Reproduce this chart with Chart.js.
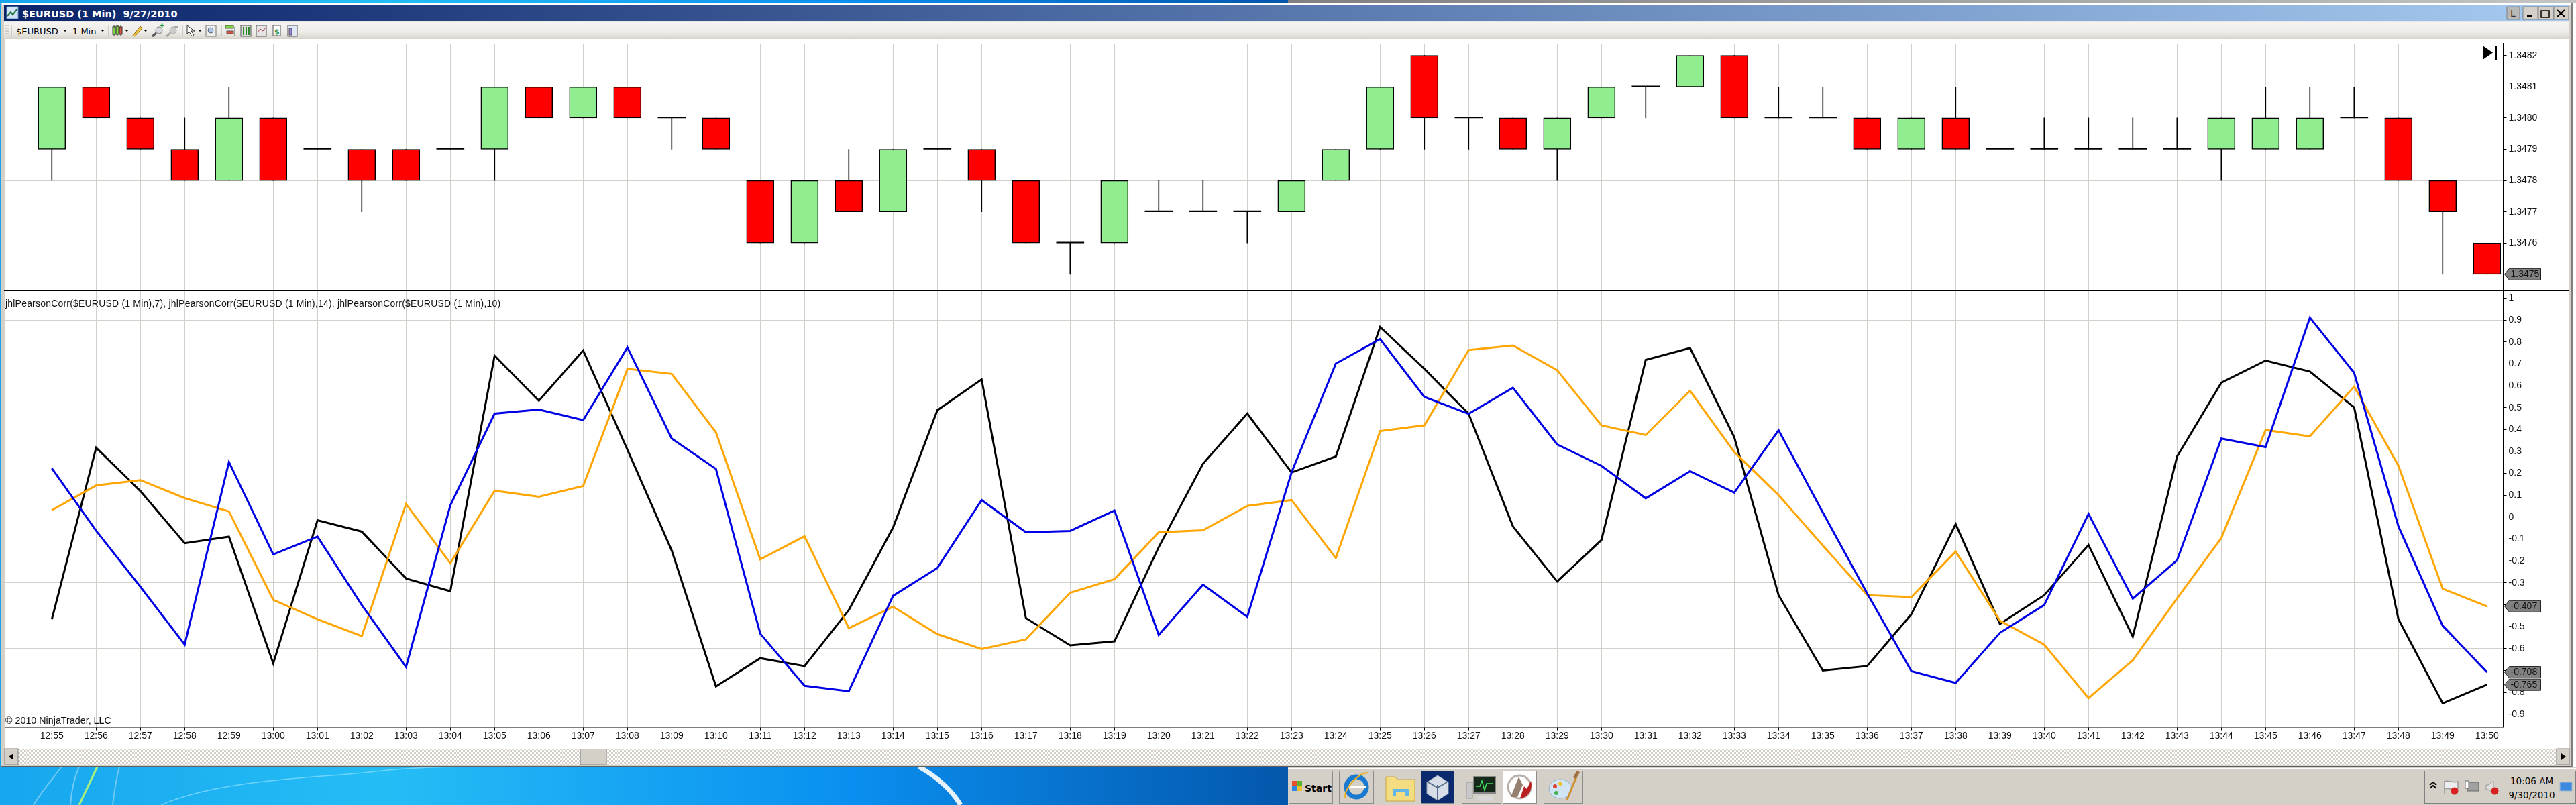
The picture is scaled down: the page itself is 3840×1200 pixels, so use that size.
<!DOCTYPE html>
<html>
<head>
<meta charset="utf-8">
<title>$EURUSD (1 Min) 9/27/2010</title>
<script src="https://cdn.jsdelivr.net/npm/chart.js@4"></script>
<style>
html, body { margin: 0; padding: 0; width: 3840px; height: 1200px; overflow: hidden; background: #d4d0c8; }
#chrome, #overlay { position: absolute; left: 0; top: 0; }
#overlay { pointer-events: none; }
canvas { position: absolute; left: 7px; display: block; }
#priceChart { top: 58px; }
#corrChart { top: 430px; }
.win { font-family: "DejaVu Sans", sans-serif; fill: #000; }
.arial { font-family: "Liberation Sans", Arial, sans-serif; fill: #111; }
</style>
</head>
<body>

<svg id="chrome" width="3840" height="1200" xmlns="http://www.w3.org/2000/svg">
	<defs>
		<linearGradient id="wall" x1="0" x2="1" y1="0" y2="0">
			<stop offset="0" stop-color="#16a6ee"/>
			<stop offset="0.3" stop-color="#25bdf6"/>
			<stop offset="0.66" stop-color="#0a8ff0"/>
			<stop offset="1" stop-color="#0457ac"/>
		</linearGradient>
		<linearGradient id="topStrip" x1="0" x2="1" y1="0" y2="0">
			<stop offset="0" stop-color="#808080"/>
			<stop offset="1" stop-color="#c4c4c4"/>
		</linearGradient>
		<linearGradient id="titleBar" x1="0" x2="1" y1="0" y2="0">
			<stop offset="0" stop-color="#0a246a"/>
			<stop offset="1" stop-color="#a6caf0"/>
		</linearGradient>
		<linearGradient id="toolBar" x1="0" x2="0" y1="0" y2="1">
			<stop offset="0" stop-color="#f5f4f1"/>
			<stop offset="0.6" stop-color="#eeece8"/>
			<stop offset="1" stop-color="#d8d4cc"/>
		</linearGradient>
		<pattern id="hatch" width="2" height="2" patternUnits="userSpaceOnUse">
			<rect width="2" height="2" fill="#ffffff"/>
			<rect width="1" height="1" fill="#d4d0c8"/>
			<rect x="1" y="1" width="1" height="1" fill="#d4d0c8"/>
		</pattern>
	</defs>

	<!-- desktop and taskbar -->
	<rect x="0" y="0" width="1920" height="1200" fill="url(#wall)"/>
	<rect x="1920" y="0" width="1920" height="4" fill="url(#topStrip)"/>
	<rect x="1920" y="1143" width="1920" height="57" fill="#d4d0c8"/>
	<rect x="1920" y="1145" width="1920" height="2" fill="#ffffff"/>
	<rect x="3836" y="4" width="4" height="1140" fill="#ffffff"/>
	<path d="M145 1143 L118 1200" stroke="#a8f080" stroke-width="3" fill="none"/>
	<path d="M92 1143 C75 1165 62 1180 50 1200 M118 1143 C108 1165 106 1185 105 1200 M178 1143 C172 1165 170 1185 168 1200" stroke="#70c8f4" stroke-width="2" fill="none"/>
	<path d="M240 1200 C330 1160 480 1160 560 1150 C620 1143 680 1143 700 1143" stroke="#6fd4fa" stroke-width="1.5" fill="none"/>
	<path d="M1370 1143 C1400 1160 1420 1180 1432 1200" stroke="#ffffff" stroke-width="7" fill="none" opacity="0.9"/>

	<!-- window frame, title bar, toolbar -->
	<rect x="2" y="4" width="3834" height="1140" fill="#d4d0c8"/>
	<rect x="2" y="1142" width="3834" height="2" fill="#5f5f5f"/>
	<rect x="3833" y="4" width="3" height="1140" fill="#7f7f7f"/>
	<rect x="3" y="5" width="3830" height="2" fill="#ffffff"/>
	<rect x="6" y="8" width="3824" height="24" fill="url(#titleBar)"/>
	<rect x="6" y="32" width="3824" height="1" fill="#e8e8e8"/>
	<rect x="6" y="33" width="3824" height="25" fill="url(#toolBar)"/>
	<rect x="7" y="58" width="3823" height="1058" fill="#ffffff"/>

	<g transform="translate(10 10)">
		<rect width="17" height="18" fill="#cfe4f6" stroke="#5d8fc0"/>
		<path d="M1 14 L6 8 L9 12 L16 3" stroke="#1d6e3a" stroke-width="2" fill="none"/>
	</g>
	<text class="win" x="33" y="26" font-size="14.5" font-weight="bold" style="fill:#fff" xml:space="preserve">$EURUSD (1 Min)  9/27/2010</text>

	<!-- caption buttons -->
	<g class="win" font-size="14">
		<rect x="3737" y="10" width="19" height="19" fill="#b8b8b8" stroke="#808080"/>
		<text x="3742" y="25" style="fill:#333">L</text>
		<g fill="#d4d0c8" stroke="#808080">
			<rect x="3761" y="10" width="22" height="19"/>
			<rect x="3784" y="10" width="22" height="19"/>
			<rect x="3807" y="10" width="22" height="19"/>
		</g>
		<rect x="3767" y="23" width="8" height="2" fill="#000"/>
		<rect x="3788" y="16" width="12" height="10" fill="none" stroke="#000" stroke-width="1.5"/>
		<path d="M3812 15 L3823 25 M3823 15 L3812 25" stroke="#000" stroke-width="2"/>
	</g>

	<!-- toolbar -->
	<g stroke="#b0aca4">
		<path d="M9 37 V54 M12 37 V54" stroke-dasharray="2 2"/>
		<path d="M17 37 V54 M162 37 V54 M272 37 V54 M330 37 V54"/>
	</g>
	<text class="win" x="24" y="51" font-size="13">$EURUSD</text>
	<text class="win" x="108" y="51" font-size="13">1 Min</text>
	<g fill="#000">
		<path d="M94 44 h6 l-3 3z M150 44 h6 l-3 3z M186 44 h6 l-3 3z M214 44 h6 l-3 3z M295 44 h6 l-3 3z"/>
	</g>
	<g stroke="#333">
		<path d="M170 37 V54 M175 37 V54 M180 37 V54"/>
		<rect x="168" y="40" width="4" height="11" fill="#7fd63f"/>
		<rect x="173" y="39" width="4" height="12" fill="#7fd63f"/>
		<rect x="178" y="40" width="4" height="11" fill="#e05040"/>
	</g>
	<path d="M198 53 L209 39 L212 42 L201 54 Z" fill="#f0c040" stroke="#8a6a10"/>
	<circle cx="237" cy="45" r="5" fill="#d8d8e0" stroke="#777"/>
	<path d="M233 49 L227 54" stroke="#555" stroke-width="3"/>
	<path d="M239 38 h5 M241.500 35.500 v5" stroke="#20a040" stroke-width="2"/>
	<circle cx="258" cy="45" r="5" fill="#ccc" stroke="#aaa"/>
	<path d="M254 49 L248 54" stroke="#aaa" stroke-width="3"/>
	<path d="M259 40 h6" stroke="#aaa" stroke-width="2"/>
	<path d="M279 38 L279 50 L282 47 L286 54 L289 52 L285 46 L290 46 Z" fill="#fff" stroke="#333"/>
	<rect x="307" y="38" width="15" height="16" fill="#eee" stroke="#777"/>
	<circle cx="314" cy="45" r="4" fill="#a8c4e8" stroke="#667"/>
	<g stroke="#555">
		<rect x="336" y="38" width="12" height="4" fill="#7fd63f"/>
		<rect x="338" y="46" width="10" height="4" fill="#e05040"/>
		<path d="M350 40 V54"/>
		<rect x="359" y="38" width="15" height="16" fill="#ddd"/>
		<path d="M363 40 V52 M367 40 V52 M371 40 V52" stroke="#2a8a2a" stroke-width="2"/>
		<rect x="382" y="38" width="15" height="16" fill="#e4e4e4"/>
		<path d="M384 48 L388 43 L392 46 L396 41" stroke="#c04040" fill="none"/>
		<rect x="407" y="38" width="11" height="15" fill="#fff"/>
		<rect x="429" y="38" width="14" height="16" fill="#dfe8f4"/>
		<rect x="431" y="42" width="4" height="10" fill="#a080e0"/>
	</g>
	<text class="win" x="409" y="51" font-size="11" font-weight="bold" style="fill:#1a8a3a">$</text>

	<!-- bottom scrollbar -->
	<rect x="7" y="1116" width="3823" height="24" fill="url(#hatch)"/>
	<rect x="7" y="1116" width="20" height="24" fill="#d4d0c8" stroke="#808080"/>
	<path d="M20 1123 V1133 L13 1128 Z" fill="#000"/>
	<rect x="865" y="1116.500" width="39" height="23.500" fill="#d4d0c8" stroke="#808080"/>
	<rect x="3811" y="1116" width="19" height="24" fill="#d4d0c8" stroke="#808080"/>
	<path d="M3818 1123 V1133 L3825 1128 Z" fill="#000"/>

	<!-- taskbar buttons -->
	<g fill="#d4d0c8" stroke="#8c8c8c">
		<rect x="1921.500" y="1149.500" width="65" height="48"/>
		<rect x="1996.500" y="1149.500" width="51" height="48"/>
		<rect x="2118.500" y="1149.500" width="49" height="48" fill="#0b2a6e"/>
		<rect x="2179.500" y="1149.500" width="58" height="48"/>
		<rect x="2240.500" y="1149.500" width="50" height="48" fill="#ffffff"/>
		<rect x="2301.500" y="1149.500" width="58" height="48"/>
	</g>
	<g transform="translate(1926 1164)">
		<rect width="7" height="7" fill="#e85030"/><rect x="8" width="7" height="7" fill="#60b030"/>
		<rect y="8" width="7" height="7" fill="#3088e0"/><rect x="8" y="8" width="7" height="7" fill="#f0c030"/>
	</g>
	<text class="win" x="1945" y="1180" font-size="14" font-weight="bold">Start</text>
	<g fill="none">
		<circle cx="2022" cy="1173" r="15" stroke="#1a7ad0" stroke-width="7"/>
		<rect x="2010" y="1171" width="26" height="4" fill="#ffffff"/>
		<path d="M2006 1190 C2000 1180 2025 1150 2040 1152" stroke="#e8b020" stroke-width="2"/>
		<path d="M2066 1158 h14 l3 4 h26 v32 h-43 z" fill="#f4dc80" stroke="#c8a840"/>
		<path d="M2076 1186 v-10 h24 v10 h-5 v-5 h-14 v5 z" fill="#60b8e8"/>
		<path d="M2143 1156 L2159 1166 V1183 L2143 1193 L2127 1183 V1166 Z" fill="#d8dee8" stroke="#90a0b0"/>
		<path d="M2143 1170 V1192 M2129 1166 L2143 1174 L2157 1166" stroke="#5a7090" stroke-width="2"/>
		<rect x="2197" y="1158" width="32" height="24" fill="#16281a" stroke="#888" stroke-width="2"/>
		<path d="M2200 1172 h6 l3 -8 l4 14 l3 -10 h10" stroke="#40e060" stroke-width="1.500"/>
		<rect x="2186" y="1166" width="9" height="24" fill="#c8c8c8" stroke="#999"/>
		<ellipse cx="2214" cy="1190" rx="13" ry="4" fill="#d8d8d8"/>
		<circle cx="2265" cy="1173" r="17" fill="#ffffff" stroke="#b8b0a8" stroke-width="3"/>
		<path d="M2252 1188 L2264 1158 L2270 1170 L2262 1188 Z" fill="#968070"/>
		<path d="M2282 1164 C2286 1178 2276 1190 2266 1190 L2272 1172 L2276 1176 Z" fill="#b82020"/>
		<ellipse cx="2326" cy="1176" rx="17" ry="14" fill="#d0e4f4" stroke="#90b0d0"/>
		<circle cx="2318" cy="1172" r="3" fill="#e04030"/>
		<circle cx="2326" cy="1168" r="3" fill="#f0c030"/>
		<circle cx="2320" cy="1182" r="3" fill="#40b050"/>
		<path d="M2336 1192 L2350 1158" stroke="#d09030" stroke-width="3"/>
		<path d="M2347 1160 L2353 1150" stroke="#a07040" stroke-width="5"/>
	</g>

	<!-- tray -->
	<rect x="3614.500" y="1149.500" width="225" height="48" fill="#d4d0c8" stroke="#808080"/>
	<path d="M3622 1170 l5 -4 l5 4 M3622 1175 l5 -4 l5 4" stroke="#000" stroke-width="2" fill="none"/>
	<path d="M3644 1164 V1183 M3644 1165 C3650 1162 3656 1168 3664 1165 V1176 C3656 1179 3650 1173 3644 1176" fill="#eeeeee" stroke="#999" stroke-width="1.500"/>
	<circle cx="3659" cy="1179" r="5.500" fill="#d82020"/>
	<rect x="3678" y="1166" width="17" height="13" fill="#a0a0a0" stroke="#666"/>
	<rect x="3675" y="1164" width="5" height="11" fill="#fff" stroke="#666"/>
	<path d="M3706 1170 h4 l7 -6 v19 l-7 -6 h-4 z" fill="#e0e0e0" stroke="#999"/>
	<circle cx="3719" cy="1179" r="5.500" fill="#d82020"/>
	<text class="win" x="3774" y="1169" font-size="13.500" text-anchor="middle">10:06 AM</text>
	<text class="win" x="3774" y="1190" font-size="13.500" text-anchor="middle">9/30/2010</text>
	<rect x="3816" y="1166" width="18" height="13" fill="#3c8ae0" stroke="#a0b8d0"/>
</svg>

<canvas id="priceChart" width="3823" height="376"></canvas>
<canvas id="corrChart" width="3823" height="686"></canvas>

<svg id="overlay" width="3840" height="1200" xmlns="http://www.w3.org/2000/svg">
	<rect x="6" y="432.500" width="3824" height="1.500" fill="#000"/>
	<text class="arial" x="8" y="457" font-size="14" style="letter-spacing:0.2px">jhlPearsonCorr($EURUSD (1 Min),7), jhlPearsonCorr($EURUSD (1 Min),14), jhlPearsonCorr($EURUSD (1 Min),10)</text>
	<text class="arial" x="8" y="1079" font-size="14.3">© 2010 NinjaTrader, LLC</text>
	<path d="M3701 68 L3716 78.500 L3701 89 Z" fill="#000"/>
	<rect x="3719" y="68" width="3" height="21" fill="#000"/>
</svg>

<script>
// minutes on the time axis
var minutes = ['12:55','12:56','12:57','12:58','12:59','13:00','13:01','13:02','13:03','13:04','13:05','13:06','13:07','13:08',
	'13:09','13:10','13:11','13:12','13:13','13:14','13:15','13:16','13:17','13:18','13:19','13:20','13:21','13:22',
	'13:23','13:24','13:25','13:26','13:27','13:28','13:29','13:30','13:31','13:32','13:33','13:34','13:35','13:36',
	'13:37','13:38','13:39','13:40','13:41','13:42','13:43','13:44','13:45','13:46','13:47','13:48','13:49','13:50'];

// $EURUSD candles
var candleOpen = [1.3479,1.3481,1.3480,1.3479,1.3478,1.3480,1.3479,1.3479,1.3479,1.3479,1.3479,1.3481,1.3480,1.3481,
	1.3480,1.3480,1.3478,1.3476,1.3478,1.3477,1.3479,1.3479,1.3478,1.3476,1.3476,1.3477,1.3477,1.3477,
	1.3477,1.3478,1.3479,1.3482,1.3480,1.3480,1.3479,1.3480,1.3481,1.3481,1.3482,1.3480,1.3480,1.3480,
	1.3479,1.3480,1.3479,1.3479,1.3479,1.3479,1.3479,1.3479,1.3479,1.3479,1.3480,1.3480,1.3478,1.3476];
var candleClose = [1.3481,1.3480,1.3479,1.3478,1.3480,1.3478,1.3479,1.3478,1.3478,1.3479,1.3481,1.3480,1.3481,1.3480,
	1.3480,1.3479,1.3476,1.3478,1.3477,1.3479,1.3479,1.3478,1.3476,1.3476,1.3478,1.3477,1.3477,1.3477,
	1.3478,1.3479,1.3481,1.3480,1.3480,1.3479,1.3480,1.3481,1.3481,1.3482,1.3480,1.3480,1.3480,1.3479,
	1.3480,1.3479,1.3479,1.3479,1.3479,1.3479,1.3479,1.3480,1.3480,1.3480,1.3480,1.3478,1.3477,1.3475];
var candleHigh = [1.3481,1.3481,1.3480,1.3480,1.3481,1.3480,1.3479,1.3479,1.3479,1.3479,1.3481,1.3481,1.3481,1.3481,
	1.3480,1.3480,1.3478,1.3478,1.3479,1.3479,1.3479,1.3479,1.3478,1.3476,1.3478,1.3478,1.3478,1.3477,
	1.3478,1.3479,1.3481,1.3482,1.3480,1.3480,1.3480,1.3481,1.3481,1.3482,1.3482,1.3481,1.3481,1.3480,
	1.3480,1.3481,1.3479,1.3480,1.3480,1.3480,1.3480,1.3480,1.3481,1.3481,1.3481,1.3480,1.3478,1.3476];
var candleLow = [1.3478,1.3480,1.3479,1.3478,1.3478,1.3478,1.3479,1.3477,1.3478,1.3479,1.3478,1.3480,1.3480,1.3480,
	1.3479,1.3479,1.3476,1.3476,1.3477,1.3477,1.3479,1.3477,1.3476,1.3475,1.3476,1.3477,1.3477,1.3476,
	1.3477,1.3478,1.3479,1.3479,1.3479,1.3479,1.3478,1.3480,1.3480,1.3481,1.3480,1.3480,1.3480,1.3479,
	1.3479,1.3479,1.3479,1.3479,1.3479,1.3479,1.3479,1.3478,1.3479,1.3479,1.3480,1.3478,1.3475,1.3475];

// jhlPearsonCorr lines
var pearson7 = [-0.466,0.317,0.119,-0.119,-0.089,-0.668,-0.014,-0.066,-0.280,-0.338,0.737,0.532,0.761,0.308,
	-0.152,-0.773,-0.644,-0.680,-0.424,-0.047,0.488,0.629,-0.461,-0.585,-0.567,-0.137,0.244,0.473,
	0.204,0.277,0.868,0.677,0.472,-0.042,-0.294,-0.104,0.718,0.772,0.365,-0.356,-0.700,-0.680,
	-0.443,-0.032,-0.487,-0.356,-0.127,-0.546,0.277,0.614,0.715,0.665,0.501,-0.466,-0.850,-0.765];
var pearson10 = [0.223,-0.062,-0.318,-0.582,0.252,-0.170,-0.089,-0.401,-0.684,0.054,0.473,0.491,0.443,0.775,
	0.359,0.220,-0.532,-0.770,-0.795,-0.359,-0.232,0.078,-0.069,-0.063,0.030,-0.538,-0.308,-0.455,
	0.204,0.701,0.813,0.549,0.472,0.591,0.332,0.234,0.086,0.210,0.112,0.397,0.021,-0.348,
	-0.703,-0.757,-0.528,-0.401,0.015,-0.372,-0.197,0.359,0.320,0.911,0.659,-0.042,-0.496,-0.708];
var pearson14 = [0.032,0.145,0.169,0.087,0.026,-0.377,-0.466,-0.543,0.060,-0.210,0.121,0.093,0.142,0.677,
	0.654,0.387,-0.193,-0.087,-0.507,-0.409,-0.534,-0.602,-0.558,-0.345,-0.283,-0.069,-0.060,0.051,
	0.078,-0.187,0.393,0.419,0.763,0.784,0.671,0.419,0.375,0.577,0.297,0.101,-0.130,-0.356,
	-0.365,-0.157,-0.473,-0.582,-0.826,-0.653,-0.371,-0.095,0.398,0.369,0.596,0.235,-0.327,-0.407];

// axis ticks
var priceTicks = [1.3482,1.3481,1.3480,1.3479,1.3478,1.3477,1.3476,1.3475];
var priceGridAt = [1.3481,1.3478,1.3475];
var corrTicks = [1,0.9,0.8,0.7,0.6,0.5,0.4,0.3,0.2,0.1,0,-0.1,-0.2,-0.3,-0.4,-0.5,-0.6,-0.7,-0.8,-0.9];
var corrGridAt = [0.9,0.6,0.3,-0.3,-0.6,-0.9];

// last value tags on the right axis
var priceTags = [1.3475];
var corrTags = [-0.407,-0.708,-0.765];

var gridGray = '#d2d0ca';
var axisFont = { family: '"Liberation Sans", Arial, sans-serif', size: 14 };
var chartLeft = 7;
var axisX = 3731.5;
var xMin = -(77.3 - chartLeft) / 66;
var xMax = (axisX - 77.3) / 66;
var minuteIndex = minutes.map(function (m, i) { return i; });

Chart.defaults.devicePixelRatio = 1;

function tagPlugin(values, digits) {
	return {
		id: 'valueTags',
		afterDraw: function (chart) {
			var ctx = chart.ctx, y = chart.scales.y;
			var left = chart.chartArea.right + 2;
			values.forEach(function (v) {
				var py = y.getPixelForValue(v);
				ctx.save();
				ctx.beginPath();
				ctx.moveTo(left, py);
				ctx.lineTo(left + 7, py - 8.5);
				ctx.lineTo(left + 54, py - 8.5);
				ctx.lineTo(left + 54, py + 8.5);
				ctx.lineTo(left + 7, py + 8.5);
				ctx.closePath();
				ctx.fillStyle = '#808080';
				ctx.fill();
				ctx.strokeStyle = '#222';
				ctx.lineWidth = 1;
				ctx.stroke();
				ctx.fillStyle = '#111';
				ctx.font = '14px ' + axisFont.family;
				ctx.textAlign = 'left';
				ctx.textBaseline = 'middle';
				ctx.fillText(v.toFixed(digits), left + 9, py);
				ctx.restore();
			});
		}
	};
}

// the plot area has to land on exact pixels, so drop the label padding chart.js adds
function noPadding(scale) {
	scale.paddingLeft = scale.paddingRight = scale.paddingTop = scale.paddingBottom = 0;
}

function xScale(showLabels, height) {
	return {
		type: 'linear',
		offset: false,
		min: xMin,
		max: xMax,
		afterBuildTicks: function (scale) {
			scale.ticks = minuteIndex.map(function (i) { return { value: i }; });
		},
		afterFit: function (scale) { scale.height = height; noPadding(scale); },
		grid: {
			offset: false,
			color: gridGray,
			lineWidth: 1,
			drawTicks: showLabels,
			tickLength: 5,
			tickColor: '#000'
		},
		border: { display: showLabels, color: '#000', width: 1.5 },
		ticks: {
			display: showLabels,
			autoSkip: false,
			maxRotation: 0,
			padding: 0,
			color: '#111',
			font: axisFont,
			callback: function (v) { return minutes[v]; }
		}
	};
}

function yScale(min, max, tickList, gridColor, label) {
	return {
		position: 'right',
		beginAtZero: false,
		min: min,
		max: max,
		afterBuildTicks: function (scale) {
			scale.ticks = tickList.map(function (v) { return { value: v }; });
		},
		afterFit: function (scale) { scale.width = 3830 - axisX; noPadding(scale); },
		grid: {
			color: gridColor,
			lineWidth: 1,
			drawTicks: true,
			tickLength: 5,
			tickColor: '#000'
		},
		border: { display: true, color: '#000', width: 1.5 },
		ticks: { autoSkip: false, padding: 3, color: '#111', font: axisFont, callback: label }
	};
}

// bodies, wicks and the flat open=close candles
var bodies = [], bodyColors = [], wicks = [], flats = [];
minutes.forEach(function (m, i) {
	wicks.push({ x: i, y: [candleLow[i], candleHigh[i]] });
	if (candleOpen[i] === candleClose[i]) {
		flats.push({ x: i, y: [candleClose[i], candleClose[i]] });
	} else {
		bodies.push({ x: i, y: [candleOpen[i], candleClose[i]] });
		bodyColors.push(candleClose[i] > candleOpen[i] ? '#90ee90' : '#ff0000');
	}
});

new Chart(document.getElementById('priceChart'), {
	type: 'bar',
	plugins: [tagPlugin(priceTags, 4)],
	data: {
		datasets: [
			{
				data: bodies,
				backgroundColor: bodyColors,
				borderColor: '#000',
				borderWidth: 1.5,
				borderSkipped: false,
				barThickness: 41,
				grouped: false,
				order: 1
			},
			{
				data: flats,
				backgroundColor: '#000',
				minBarLength: 1.5,
				barThickness: 41,
				grouped: false,
				order: 0
			},
			{
				data: wicks,
				backgroundColor: '#000',
				barThickness: 1,
				grouped: false,
				order: 2
			}
		]
	},
	options: {
		responsive: false,
		animation: false,
		layout: { padding: { top: 7, left: 0, right: 0, bottom: 0 } },
		plugins: { legend: { display: false }, tooltip: { enabled: false } },
		scales: {
			x: xScale(false, 0),
			y: yScale(1.348238, 1.347446, priceTicks, function (c) {
				return priceGridAt.indexOf(c.tick.value) >= 0 ? gridGray : 'rgba(0,0,0,0)';
			}, function (v) { return v.toFixed(4); })
		}
	}
});

function line(values, color, order) {
	return {
		data: values.map(function (v, i) { return { x: i, y: v }; }),
		borderColor: color,
		borderWidth: 3,
		borderJoinStyle: 'miter',
		pointRadius: 0,
		tension: 0,
		fill: false,
		order: order
	};
}

new Chart(document.getElementById('corrChart'), {
	type: 'line',
	plugins: [tagPlugin(corrTags, 3)],
	data: {
		datasets: [
			line(pearson14, '#ffa500', 2),
			line(pearson7, '#000000', 3),
			line(pearson10, '#0000e6', 1)
		]
	},
	options: {
		responsive: false,
		animation: false,
		layout: { padding: { top: 4, left: 0, right: 0, bottom: 0 } },
		plugins: { legend: { display: false }, tooltip: { enabled: false } },
		scales: {
			x: xScale(true, 32.5),
			y: yScale(1.0319, -0.9574, corrTicks, function (c) {
				if (c.tick.value === 0) return '#6b6b3a';
				return corrGridAt.indexOf(c.tick.value) >= 0 ? gridGray : 'rgba(0,0,0,0)';
			}, function (v) { return String(v); })
		}
	}
});
</script>
</body>
</html>
